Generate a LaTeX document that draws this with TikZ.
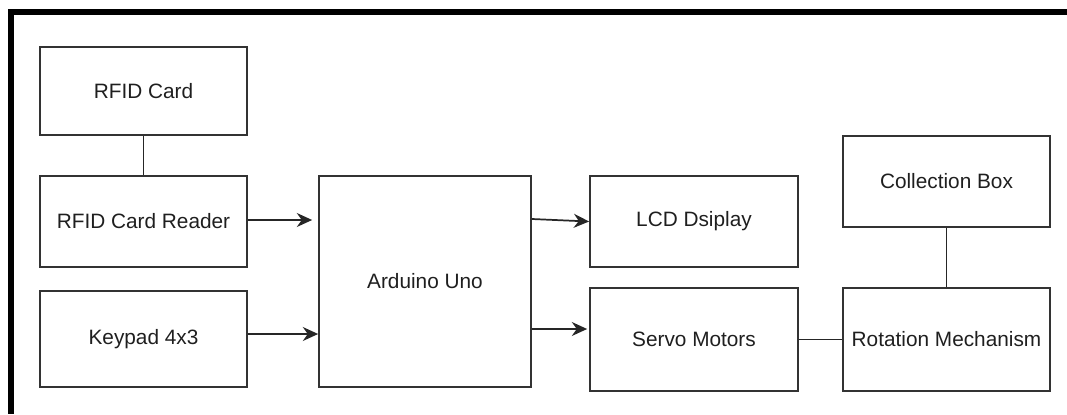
\documentclass[tikz,border=0pt]{standalone}
\usepackage{fontspec}
\setmainfont{Liberation Sans}
\usetikzlibrary{arrows.meta}

\begin{document}
\begin{tikzpicture}[x=0.75pt,y=-0.75pt,>={Stealth[length=11.5pt,width=10.5pt]}]

\tikzset{%
every block/.style={
rectangle,
draw=black!80,
line width=1.3pt,
text=black!88,
font=\fontsize{15.6}{18}\selectfont,
inner sep=0pt
},
link/.style={
draw=black!85,
line width=1.3pt
},
}

\useasboundingbox (0,0) rectangle (1067,414);

% Outer frame (only top and left edges are visible)
\draw [line width=4.5pt] (1067,12) -- (11,12) -- (11,414);

% Input blocks on the left
\foreach \m/\l/\y/\h in {card/RFID Card/91/88,reader/RFID Card Reader/221.5/91,keypad/Keypad 4x3/339/96}
\node [every block, minimum width=155pt, minimum height=\h*0.75pt] (\m) at (143.5,\y) {\l};

% Controller
\node [every block, minimum width=159pt, minimum height=158pt] (arduino) at (425,281.5) {Arduino Uno};

% Output blocks
\node [every block, minimum width=156pt, minimum height=68pt] (lcd) at (694,221.5) {LCD Dsiplay};
\node [every block, minimum width=156pt, minimum height=77pt] (servo) at (694,339.5) {Servo Motors};
\node [every block, minimum width=155pt, minimum height=68pt] (collect) at (946.5,181.5) {Collection Box};
\node [every block, minimum width=155pt, minimum height=77pt] (rotate) at (946.5,339.5) {Rotation Mechanism};

% Plain links
\draw [link] (card) -- (reader);
\draw [link] (servo) -- (rotate);
\draw [link] (collect) -- (rotate);

% Arrows into and out of the Arduino
\draw [link, ->, shorten >=4.5pt] (reader.east |- 0,220) -- (arduino.west |- 0,220);
\draw [link, ->] (keypad.east |- 0,334) -- (arduino.west |- 0,334);
\draw [link, ->] (arduino.east |- 0,219) -- (lcd.west);
\draw [link, ->, shorten >=1.5pt] (arduino.east |- 0,329) -- (servo.west |- 0,329);

\end{tikzpicture}
\end{document}
